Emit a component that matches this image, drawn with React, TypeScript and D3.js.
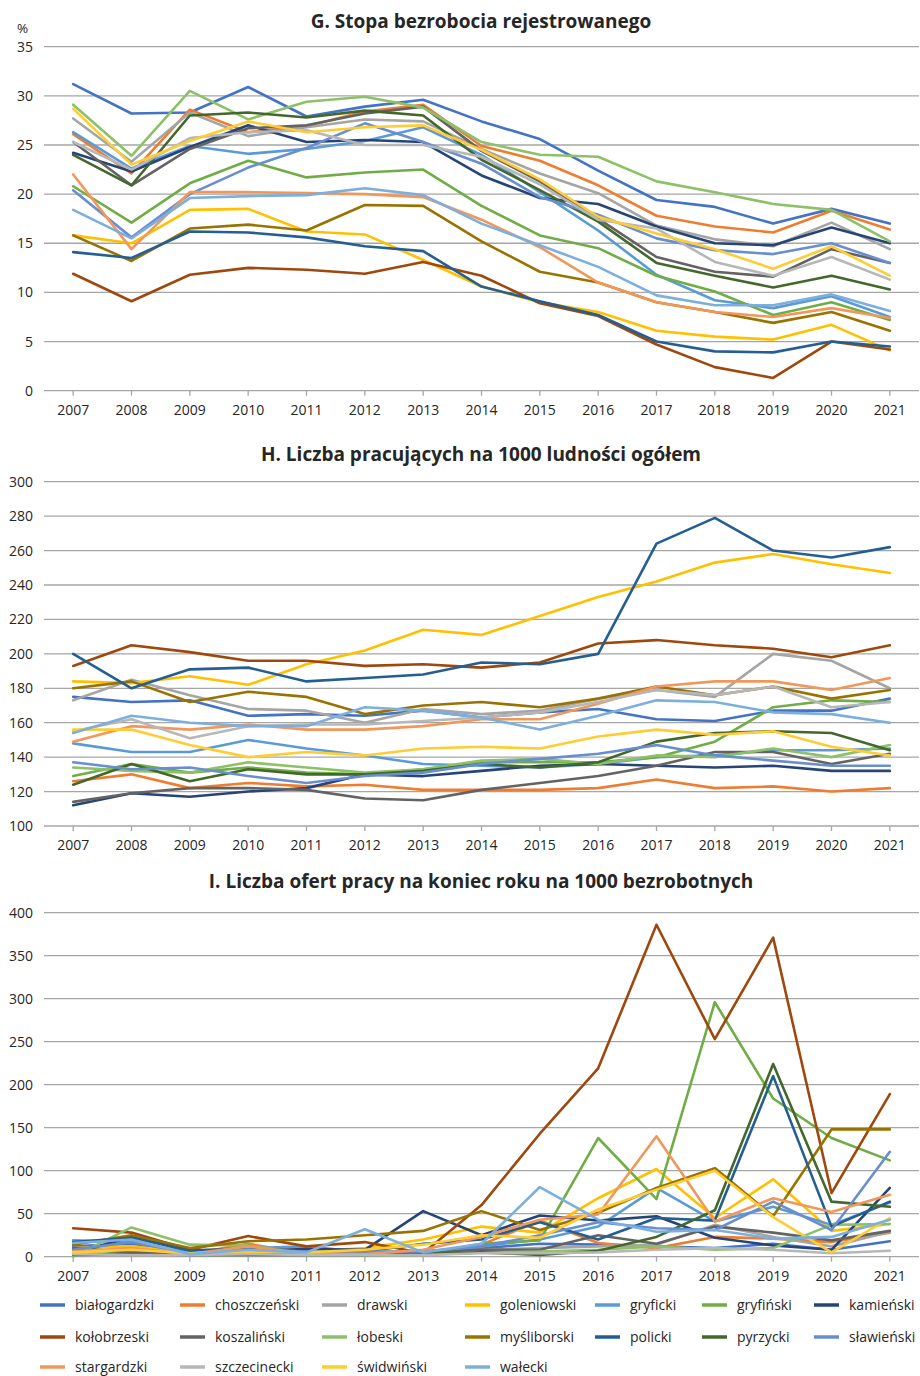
import React from "react";
import * as d3 from "d3";

const years = ["2007", "2008", "2009", "2010", "2011", "2012", "2013", "2014", "2015", "2016", "2017", "2018", "2019", "2020", "2021"];

const districts = [
  "białogardzki", "choszczeński", "drawski", "goleniowski", "gryficki", "gryfiński", "kamieński",
  "kołobrzeski", "koszaliński", "łobeski", "myśliborski", "policki", "pyrzycki", "sławieński",
  "stargardzki", "szczecinecki", "świdwiński", "wałecki",
];

const colors = [
  "#4472c4", "#ed7d31", "#a5a5a5", "#ffc000", "#5b9bd5", "#70ad47", "#264478",
  "#9e480e", "#636363", "#8cc168", "#997300", "#255e91", "#43682b", "#698ed0",
  "#f1975a", "#b7b7b7", "#ffcd33", "#7cafdd",
];

// G. Stopa bezrobocia rejestrowanego (%)
const unemployment = [
  [31.2, 28.2, 28.3, 30.9, 27.9, 28.9, 29.6, 27.4, 25.6, 22.4, 19.4, 18.7, 17.0, 18.5, 17.0],
  [26.1, 22.1, 28.6, 26.3, 26.9, 28.4, 29.1, 24.9, 23.4, 20.9, 17.8, 16.7, 16.1, 18.3, 16.4],
  [27.7, 23.3, 28.3, 25.9, 26.8, 27.6, 27.4, 24.6, 22.1, 20.1, 16.8, 15.4, 14.7, 17.1, 14.4],
  [15.8, 15.0, 18.4, 18.5, 16.2, 15.9, 13.3, 10.6, 9.0, 8.0, 6.1, 5.5, 5.2, 6.7, 4.1],
  [26.3, 22.6, 24.9, 24.1, 24.6, 25.4, 26.8, 24.0, 20.2, 16.3, 11.8, 9.2, 8.4, 9.6, 7.5],
  [20.8, 17.1, 21.1, 23.4, 21.7, 22.2, 22.5, 18.8, 15.8, 14.5, 11.7, 10.1, 7.7, 9.0, 7.2],
  [24.2, 22.3, 24.8, 27.0, 25.3, 25.5, 25.3, 21.9, 19.6, 19.0, 16.7, 15.0, 14.8, 16.6, 15.0],
  [11.9, 9.1, 11.8, 12.5, 12.3, 11.9, 13.1, 11.7, 8.9, 7.6, 4.7, 2.4, 1.3, 5.0, 4.2],
  [25.3, 20.9, 24.6, 26.7, 27.0, 28.2, 28.9, 24.4, 21.3, 17.5, 13.6, 12.1, 11.6, 14.4, 13.0],
  [29.1, 23.9, 30.5, 27.6, 29.4, 29.9, 28.8, 25.3, 24.0, 23.8, 21.3, 20.2, 19.0, 18.4, 15.2],
  [15.8, 13.2, 16.5, 16.9, 16.3, 18.9, 18.8, 15.2, 12.1, 11.0, 9.0, 8.0, 6.9, 8.0, 6.1],
  [14.1, 13.5, 16.2, 16.1, 15.6, 14.7, 14.2, 10.6, 9.1, 7.7, 5.0, 4.0, 3.9, 5.0, 4.5],
  [24.0, 20.9, 28.0, 28.3, 27.8, 28.5, 28.0, 23.5, 20.4, 17.2, 13.0, 11.7, 10.5, 11.7, 10.3],
  [20.4, 15.6, 20.0, 22.7, 24.7, 27.2, 25.3, 23.1, 19.7, 17.9, 15.5, 14.3, 13.9, 15.0, 13.0],
  [22.0, 14.4, 20.2, 20.2, 20.1, 20.0, 19.7, 17.4, 14.6, 11.0, 9.0, 8.0, 7.5, 8.4, 7.4],
  [25.3, 22.5, 25.7, 26.3, 26.5, 25.0, 25.0, 23.8, 21.0, 17.4, 16.5, 13.1, 11.7, 13.6, 11.3],
  [28.7, 23.0, 25.4, 27.4, 26.3, 26.8, 27.0, 24.5, 21.5, 17.7, 16.0, 14.4, 12.4, 14.7, 11.7],
  [18.4, 15.5, 19.6, 19.8, 19.9, 20.6, 19.9, 17.0, 14.8, 12.6, 9.7, 8.7, 8.7, 9.8, 8.1],
];

// H. Liczba pracujących na 1000 ludności ogółem
const employed = [
  [175, 172, 173, 164, 165, 164, 167, 163, 166, 168, 162, 161, 167, 167, 174],
  [126, 130, 122, 125, 123, 124, 121, 121, 121, 122, 127, 122, 123, 120, 122],
  [173, 185, 176, 168, 167, 160, 168, 165, 167, 174, 179, 175, 200, 196, 180],
  [184, 183, 187, 182, 194, 202, 214, 211, 222, 233, 242, 253, 258, 252, 247],
  [148, 143, 143, 150, 145, 141, 136, 135, 134, 136, 140, 141, 144, 144, 145],
  [129, 136, 131, 134, 131, 130, 133, 137, 137, 137, 140, 149, 169, 173, 172],
  [112, 119, 117, 120, 122, 130, 129, 132, 135, 136, 135, 134, 135, 132, 132],
  [193, 205, 201, 196, 196, 193, 194, 192, 195, 206, 208, 205, 203, 198, 205],
  [114, 119, 122, 122, 121, 116, 115, 121, 125, 129, 135, 143, 143, 136, 142],
  [134, 132, 131, 137, 134, 131, 133, 138, 139, 136, 141, 140, 145, 140, 147],
  [180, 184, 172, 178, 175, 165, 170, 172, 169, 174, 181, 176, 181, 174, 179],
  [200, 180, 191, 192, 184, 186, 188, 195, 194, 200, 264, 279, 260, 256, 262],
  [124, 136, 126, 133, 130, 130, 132, 136, 134, 137, 149, 154, 155, 154, 144],
  [137, 133, 134, 129, 125, 129, 131, 136, 139, 142, 147, 141, 138, 135, 135],
  [149, 158, 156, 159, 156, 156, 158, 162, 162, 171, 181, 184, 184, 179, 186],
  [155, 162, 151, 158, 159, 159, 161, 163, 166, 172, 179, 176, 181, 169, 172],
  [156, 156, 147, 140, 143, 141, 145, 146, 145, 152, 156, 153, 155, 146, 141],
  [154, 164, 160, 158, 158, 169, 167, 163, 156, 164, 173, 172, 166, 165, 160],
];

// I. Liczba ofert pracy na koniec roku na 1000 bezrobotnych
const offers = [
  [12, 15, 5, 6, 4, 5, 6, 10, 15, 14, 12, 10, 15, 8, 18],
  [5, 8, 3, 15, 3, 3, 4, 14, 42, 16, 10, 23, 21, 17, 28],
  [8, 6, 4, 5, 3, 4, 5, 8, 10, 12, 14, 37, 23, 12, 29],
  [10, 12, 5, 10, 6, 10, 20, 35, 28, 68, 102, 45, 90, 30, 38],
  [19, 17, 5, 10, 12, 5, 4, 12, 20, 35, 80, 41, 58, 37, 63],
  [2, 5, 3, 5, 2, 3, 3, 15, 19, 138, 67, 296, 184, 138, 112],
  [4, 23, 8, 7, 9, 8, 53, 25, 48, 42, 47, 22, 13, 8, 80],
  [33, 28, 8, 24, 12, 17, 4, 60, 143, 219, 386, 253, 371, 74, 189],
  [10, 5, 3, 4, 3, 5, 5, 8, 8, 25, 15, 35, 28, 19, 30],
  [0, 34, 14, 13, 4, 2, 2, 5, 6, 8, 12, 8, 10, 37, 38],
  [14, 25, 10, 18, 20, 25, 30, 53, 31, 51, 80, 103, 47, 148, 148],
  [17, 22, 7, 10, 6, 6, 15, 20, 40, 20, 45, 42, 210, 35, 64],
  [2, 3, 2, 2, 2, 2, 3, 5, 2, 7, 23, 54, 224, 64, 58],
  [8, 17, 4, 8, 6, 6, 6, 12, 25, 40, 33, 31, 64, 31, 122],
  [6, 10, 3, 12, 4, 3, 8, 23, 43, 49, 140, 41, 68, 52, 72],
  [3, 2, 2, 3, 2, 2, 2, 4, 4, 5, 8, 10, 8, 4, 7],
  [5, 8, 4, 6, 5, 8, 14, 25, 22, 55, 78, 100, 46, 5, 45],
  [16, 20, 3, 8, 5, 32, 5, 15, 81, 43, 29, 31, 21, 23, 43],
];

const W = 920;
const H = 1376;
const font = "'Open Sans', 'Noto Sans', sans-serif";
const textColor = "#262626";
const gridColor = "#a6a6a6";

const x = d3.scaleBand().domain(years).range([44, 919]);
const cx = (yr) => x(yr) + x.bandwidth() / 2;

function Panel({ title, data, domain, ticks, top, bottom, titleY, unit }) {
  const y = d3.scaleLinear().domain(domain).range([bottom, top]);
  const line = d3
    .line()
    .x((d, i) => cx(years[i]))
    .y((d) => y(d));
  return (
    <g>
      <text x={481} y={titleY} textAnchor="middle" fontFamily={font} fontWeight="bold" fontSize={19} fill={textColor}>
        {title}
      </text>
      {unit && (
        <text x={17} y={top - 14} fontFamily={font} fontSize={13.5} fill={textColor}>
          {unit}
        </text>
      )}
      {ticks.map((t) => (
        <g key={t}>
          <line x1={44} x2={919} y1={y(t)} y2={y(t)} stroke={gridColor} strokeWidth={1.3} />
          <text x={33} y={y(t) + 5} textAnchor="end" fontFamily={font} fontSize={14} fill={textColor}>
            {t}
          </text>
        </g>
      ))}
      {years.map((yr) => (
        <g key={yr}>
          <line x1={cx(yr)} x2={cx(yr)} y1={bottom} y2={bottom + 5} stroke={gridColor} strokeWidth={1.3} />
          <text x={cx(yr)} y={bottom + 24} textAnchor="middle" fontFamily={font} fontSize={14} fill={textColor}>
            {yr}
          </text>
        </g>
      ))}
      {data.map((vals, i) => (
        <path
          key={districts[i]}
          d={line(vals)}
          fill="none"
          stroke={colors[i]}
          strokeWidth={2.6}
          strokeLinejoin="round"
          strokeLinecap="round"
        />
      ))}
    </g>
  );
}

const legendCols = [75, 215, 357, 500, 630, 737, 849];
const legendRows = [1305, 1337, 1367];

function Legend() {
  return (
    <g>
      {districts.map((name, i) => {
        const col = i % 7;
        const row = Math.floor(i / 7);
        const tx = legendCols[col];
        const ty = legendRows[row];
        return (
          <g key={name}>
            <line x1={tx - 35} x2={tx - 10} y1={ty} y2={ty} stroke={colors[i]} strokeWidth={3.5} />
            <text x={tx} y={ty + 5} fontFamily={font} fontSize={14} fill={textColor}>
              {name}
            </text>
          </g>
        );
      })}
    </g>
  );
}

export default function App() {
  return (
    <div style={{ position: "absolute", left: 0, top: 0 }}>
      <svg width={W} height={H} style={{ display: "block", background: "#fff" }}>
        <Panel
          title="G. Stopa bezrobocia rejestrowanego"
          data={unemployment}
          domain={[0, 35]}
          ticks={d3.range(0, 36, 5)}
          top={46.7}
          bottom={390.7}
          titleY={28}
          unit="%"
        />
        <Panel
          title="H. Liczba pracujących na 1000 ludności ogółem"
          data={employed}
          domain={[100, 300]}
          ticks={d3.range(100, 301, 20)}
          top={481.7}
          bottom={826}
          titleY={460.5}
        />
        <Panel
          title="I. Liczba ofert pracy na koniec roku na 1000 bezrobotnych"
          data={offers}
          domain={[0, 400]}
          ticks={d3.range(0, 401, 50)}
          top={912.7}
          bottom={1256.7}
          titleY={888.3}
        />
        <Legend />
      </svg>
    </div>
  );
}
